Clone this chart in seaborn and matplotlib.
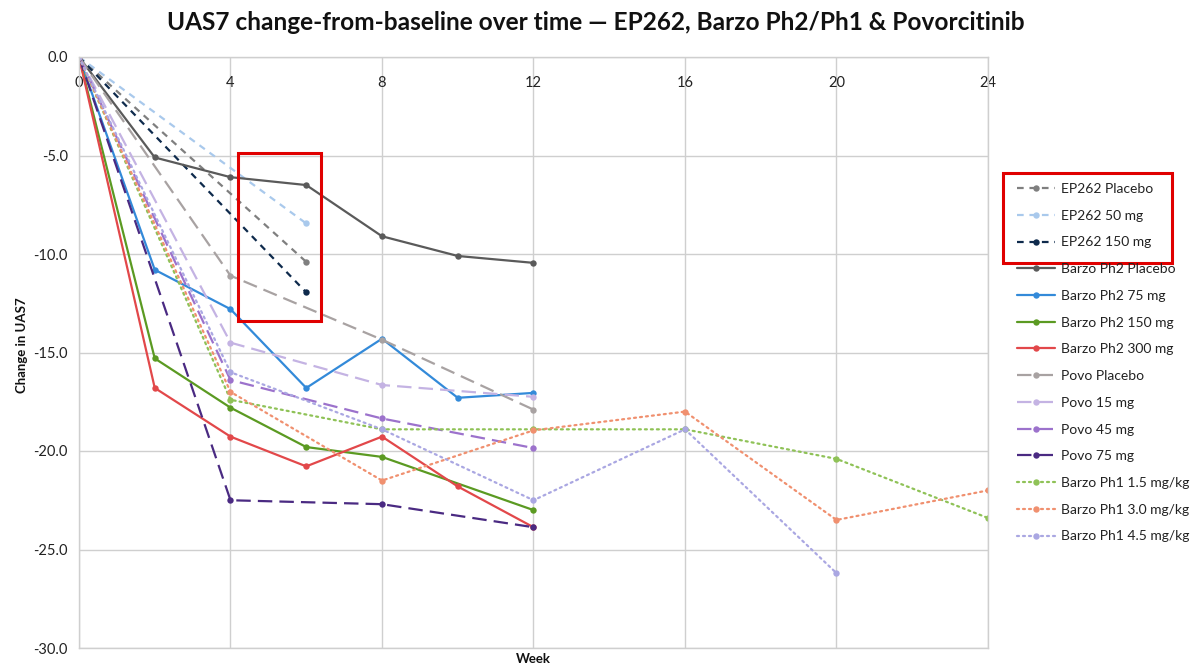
import numpy as np
import pandas as pd
import matplotlib
matplotlib.use("Agg")
import matplotlib.pyplot as plt
import seaborn as sns
from matplotlib.patches import Rectangle

# ---------------- data ----------------
weeks_ep262 = [0, 6]
ep262_placebo = [0, -10.4]
ep262_50 = [0, -8.45]
ep262_150 = [0, -11.95]

weeks_barzo2 = [0, 2, 4, 6, 8, 10, 12]
barzo2_placebo = [0, -5.1, -6.1, -6.5, -9.1, -10.1, -10.45]
barzo2_75 = [0, -10.8, -12.8, -16.8, -14.3, -17.3, -17.05]
weeks_barzo2_150 = [0, 2, 4, 6, 8, 12]
barzo2_150 = [0, -15.3, -17.8, -19.8, -20.3, -23.0]
barzo2_300 = [0, -16.8, -19.27, -20.78, -19.27, -21.8, -23.87]

weeks_povo = [0, 4, 8, 12]
povo_placebo = [0, -11.1, -14.35, -17.9]
povo_15 = [0, -14.5, -16.65, -17.25]
povo_45 = [0, -16.4, -18.35, -19.85]
povo_75 = [0, -22.5, -22.7, -23.87]

weeks_ph1 = [0, 4, 8, 12, 16, 20, 24]
ph1_15 = [0, -17.4, -18.9, -18.9, -18.9, -20.4, -23.4]
ph1_30 = [0, -17.0, -21.5, -18.95, -18.0, -23.5, -22.0]
weeks_ph1_45 = [0, 4, 8, 12, 16, 20]
ph1_45 = [0, -16.0, -18.9, -22.5, -18.9, -26.2]

x_ticks = [0, 4, 8, 12, 16, 20, 24]
y_ticks = [0, -5, -10, -15, -20, -25, -30]

series = [
    ("EP262 Placebo", weeks_ep262, ep262_placebo, "#7f7f7f", "short"),
    ("EP262 50 mg", weeks_ep262, ep262_50, "#a9c9ec", "short"),
    ("EP262 150 mg", weeks_ep262, ep262_150, "#0e2a4c", "short"),
    ("Barzo Ph2 Placebo", weeks_barzo2, barzo2_placebo, "#5a5a5a", "solid"),
    ("Barzo Ph2 75 mg", weeks_barzo2, barzo2_75, "#338ad9", "solid"),
    ("Barzo Ph2 150 mg", weeks_barzo2_150, barzo2_150, "#5b9a22", "solid"),
    ("Barzo Ph2 300 mg", weeks_barzo2, barzo2_300, "#e2484a", "solid"),
    ("Povo Placebo", weeks_povo, povo_placebo, "#a8a2a2", "long"),
    ("Povo 15 mg", weeks_povo, povo_15, "#c4b3e3", "long"),
    ("Povo 45 mg", weeks_povo, povo_45, "#9c72cc", "long"),
    ("Povo 75 mg", weeks_povo, povo_75, "#4a2a82", "long"),
    ("Barzo Ph1 1.5 mg/kg", weeks_ph1, ph1_15, "#8fc257", "dot"),
    ("Barzo Ph1 3.0 mg/kg", weeks_ph1, ph1_30, "#f0906f", "dot"),
    ("Barzo Ph1 4.5 mg/kg", weeks_ph1_45, ph1_45, "#aaa7e2", "dot"),
]

dash_styles = {
    "short": (0, (3.0, 2.6)),
    "solid": "-",
    "long": (0, (6.5, 3.2)),
    "dot": (0, (0.9, 1.8)),
}

sns.set_theme(style="white")
plt.rcParams["font.family"] = ["Lato", "DejaVu Sans"]

fig = plt.figure(figsize=(12, 6.71), dpi=100)
ax = fig.add_axes([79 / 1200, 1 - 648 / 671, (988 - 79) / 1200, (648 - 57) / 671])

handles = []
for label, wk, vals, color, style in series:
    df = pd.DataFrame({"Week": wk, "Change": vals})
    sns.lineplot(data=df, x="Week", y="Change", ax=ax, color=color,
                 linestyle=dash_styles[style], linewidth=1.6, marker="o",
                 markersize=4.6, markeredgewidth=0, label=label, legend=False,
                 sort=False)
    ln = ax.lines[-1]
    if style == "dot":
        ln.set_dash_capstyle("round")
    handles.append(ln)

ax.set_xlim(0, 24)
ax.set_ylim(-30, 0)
ax.set_xticks(x_ticks)
ax.set_yticks(y_ticks)
ax.set_yticklabels([f"{v:.1f}" for v in y_ticks])
ax.xaxis.tick_top()
ax.tick_params(axis="x", which="both", length=0, pad=-13.5, labelsize=10.5, colors="#222222")
ax.tick_params(axis="y", which="both", length=0, pad=8, labelsize=10.5, colors="#222222")
for lbl in ax.get_xticklabels():
    lbl.set_verticalalignment("top")
ax.grid(True, color="#cfcfcf", linewidth=1.0)
ax.set_axisbelow(True)
for sp in ax.spines.values():
    sp.set_color("#cfcfcf")
    sp.set_linewidth(1.0)

ax.set_xlabel("")
ax.set_ylabel("")
fig.text(533 / 1200, 1 - 659 / 671, "Week", ha="center", va="center",
         fontsize=9.5, fontweight="bold", color="#111111")
fig.text(22 / 1200, 1 - 345 / 671, "Change in UAS7", ha="center", va="center",
         rotation=90, fontsize=9.5, fontweight="bold", color="#111111")

fig.suptitle("UAS7 change-from-baseline over time — EP262, Barzo Ph2/Ph1 & Povorcitinib",
             x=596 / 1200, y=1 - 22 / 671, ha="center", va="center",
             fontsize=17.6, fontweight="bold", color="#111111")

# highlight box in the plot
ax.add_patch(Rectangle((4.2, -13.42), 2.2, 8.55, fill=False, edgecolor="#e00000",
                       linewidth=2.2, zorder=20))

leg = fig.legend(handles=handles, labels=[s[0] for s in series],
                 loc="upper left", bbox_to_anchor=(1017 / 1200, 1 - 183 / 671),
                 bbox_transform=fig.transFigure, frameon=False, fontsize=10,
                 labelspacing=1.06, handlelength=2.75, handletextpad=0.4,
                 borderaxespad=0, borderpad=0)
for t in leg.get_texts():
    t.set_color("#222222")

fig.patches.append(Rectangle((1003 / 1200, 1 - 263 / 671), 169 / 1200, 90 / 671,
                             transform=fig.transFigure, fill=False,
                             edgecolor="#e00000", linewidth=2.2))

fig.savefig("out.png", dpi=100, facecolor="white")
